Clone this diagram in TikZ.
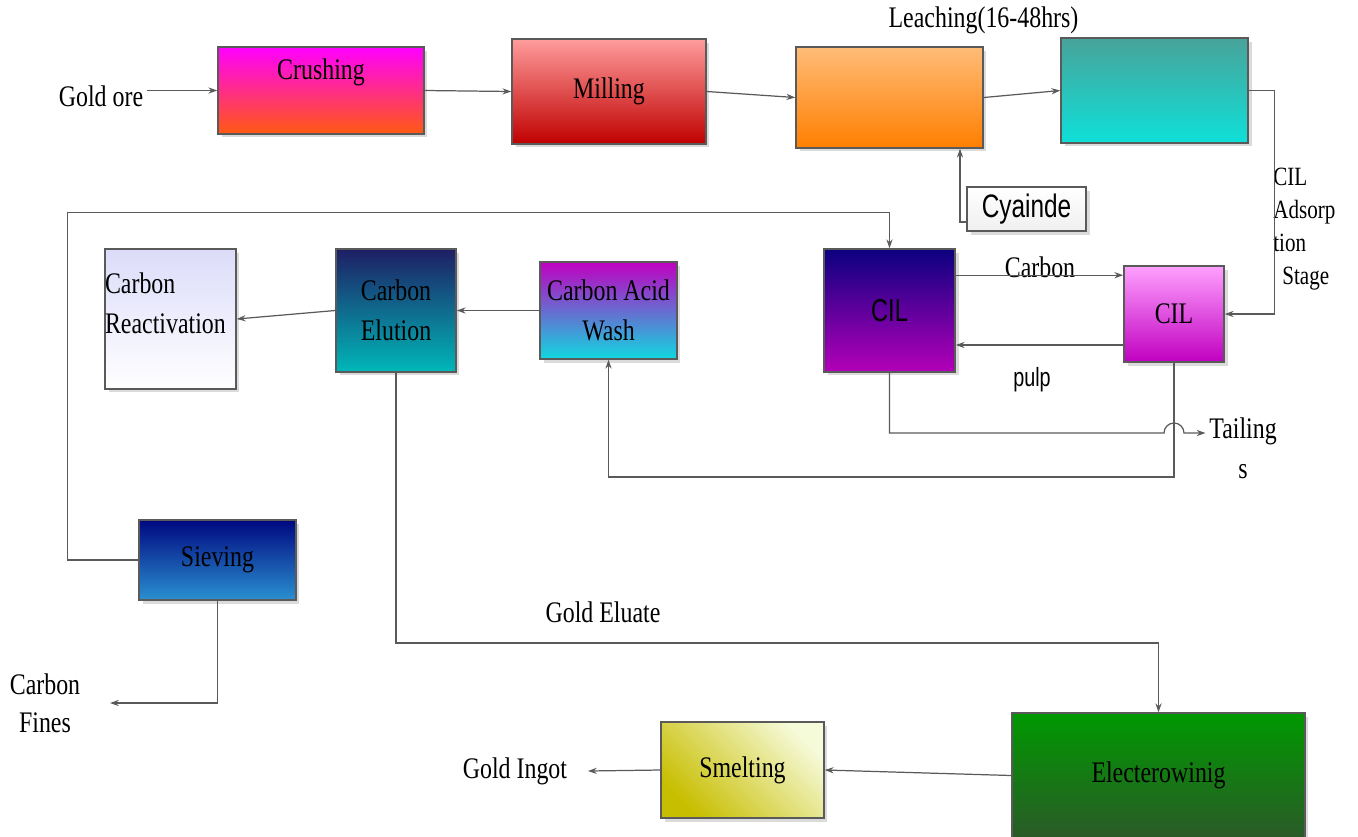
\documentclass[tikz,border=0pt]{standalone}
\usepackage{fontspec}
\setmainfont[FakeStretch=0.8]{Liberation Serif}
\newfontfamily\narsans[FakeStretch=0.75]{Liberation Sans}
\usetikzlibrary{shadows,arrows.meta}

\definecolor{edgegrey}{HTML}{5A5A5A}
\definecolor{crushtop}{HTML}{FF00FF}
\definecolor{crushbot}{HTML}{FF5A10}
\definecolor{milltop}{HTML}{FF9C9C}
\definecolor{millbot}{HTML}{C00000}
\definecolor{leachtop}{HTML}{FFBC78}
\definecolor{leachbot}{HTML}{FF7F00}
\definecolor{tanktop}{HTML}{48A39A}
\definecolor{tankbot}{HTML}{0EE0D8}
\definecolor{cilatop}{HTML}{0B0080}
\definecolor{cilabot}{HTML}{B400B8}
\definecolor{cilbtop}{HTML}{FFA0FF}
\definecolor{cilbbot}{HTML}{C000C0}
\definecolor{acidtop}{HTML}{C000C0}
\definecolor{acidbot}{HTML}{10D8E0}
\definecolor{elutetop}{HTML}{1E1E64}
\definecolor{elutebot}{HTML}{00B8B8}
\definecolor{reacttop}{HTML}{DCDCFA}
\definecolor{sievetop}{HTML}{000880}
\definecolor{sievebot}{HTML}{2A90D0}
\definecolor{electtop}{HTML}{009900}
\definecolor{electbot}{HTML}{2A5A28}
\definecolor{smeltdark}{HTML}{C8BE00}
\definecolor{smeltlight}{HTML}{F5FAD8}

\begin{document}
\begin{tikzpicture}[x=0.02cm, y=-0.02cm,
    stage/.style={draw=edgegrey, line width=0.9pt, inner sep=0pt, align=center,
      drop shadow={shadow xshift=0.07cm, shadow yshift=-0.07cm, fill=black!14, opacity=1},
      font=\fontsize{17}{22.5}\selectfont},
    flow/.style={draw=edgegrey, line width=0.7pt, -{Stealth[length=5pt, width=3.5pt]}},
    txt/.style={inner sep=2pt, align=center, font=\fontsize{17}{22.5}\selectfont}]
  % Fix the page size
  \useasboundingbox (0,0) rectangle (1358,836);

  % Draw the top row
  \node[stage, minimum width=4.12cm, minimum height=1.74cm, top color=crushtop, bottom color=crushbot, text depth=24.7pt] (crush) at (321,90.5) {Crushing};
  \node[stage, minimum width=3.88cm, minimum height=2.1cm, top color=milltop, bottom color=millbot] (mill) at (609,91.5) {Milling};
  \node[stage, minimum width=3.74cm, minimum height=2.02cm, top color=leachtop, bottom color=leachbot] (leach) at (889.5,97.5) {};
  \node[stage, minimum width=3.74cm, minimum height=2.1cm, top color=tanktop, bottom color=tankbot] (tank) at (1154.5,90.5) {};
  \node[stage, minimum width=2.38cm, minimum height=0.88cm, top color=white, bottom color=black!6, font=\narsans\fontsize{18.5}{21}\selectfont] (cyan) at (1026.5,209) {Cyainde};

  % Draw the CIL row
  \node[stage, minimum width=2.62cm, minimum height=2.46cm, top color=cilatop, bottom color=cilabot, font=\narsans\fontsize{18}{21}\selectfont] (cila) at (889.5,310.5) {CIL};
  \node[stage, minimum width=2cm, minimum height=1.92cm, top color=cilbtop, bottom color=cilbbot] (cilb) at (1174,314) {CIL};
  \node[stage, minimum width=2.74cm, minimum height=1.94cm, top color=acidtop, bottom color=acidbot] (acid) at (608.5,310.5) {Carbon Acid\\Wash};
  \node[stage, minimum width=2.4cm, minimum height=2.46cm, top color=elutetop, bottom color=elutebot] (elute) at (396,310.5) {Carbon\\Elution};
  \node[stage, minimum width=2.62cm, minimum height=2.8cm, top color=reacttop, bottom color=white, text depth=22pt] (react) at (170.5,319)
    {\makebox[2.62cm][l]{\begin{tabular}[b]{@{}l@{}}Carbon\\Reactivation\end{tabular}}};

  % Draw the bottom row
  \node[stage, minimum width=3.14cm, minimum height=1.6cm, top color=sievetop, bottom color=sievebot] (sieve) at (217.5,560) {Sieving};
  \node[stage, minimum width=5.86cm, minimum height=2.5cm, top color=electtop, bottom color=electbot] (elect) at (1158.5,775.5) {Electerowinig};
  \node[stage, minimum width=3.26cm, minimum height=1.92cm, bottom color=smeltdark, top color=smeltlight, shading angle=-45] (smelt) at (742.5,770) {Smelting};

  % Free texts
  \node[txt] (ore) at (101,96) {Gold ore};
  \node[txt] (leachlbl) at (983.5,20) {Leaching(16-48hrs)};
  \node[txt, anchor=north west, inner sep=0pt, align=left, font=\fontsize{15}{18.7}\selectfont] (ads) at (1273,168) {CIL\\Adsorp\\tion\\\hspace*{0.18cm}Stage};
  \node[txt] (carb) at (1040,267) {Carbon};
  \node[txt, font=\narsans\fontsize{15}{18}\selectfont] (pulp) at (1032,380) {pulp};
  \node[txt, font=\fontsize{17}{22.7}\selectfont] (tail) at (1243,448) {Tailing\\s};
  \node[txt] (eluate) at (603,612) {Gold Eluate};
  \node[txt, font=\fontsize{17}{21.5}\selectfont] (fines) at (45,703) {Carbon\\Fines};
  \node[txt] (ingot) at (515,771) {Gold Ingot};

  % Helper points on the CIL lines
  \coordinate (cin) at ([yshift=-0.2cm]cilb.north west);
  \coordinate (pout) at ([yshift=-0.62cm]cilb.west);
  \coordinate (hop) at (1174,433);

  % Connect the top row
  \draw[flow] (ore.east |- crush.west) -- (crush.west);
  \draw[flow] (crush.east) -- (mill.west);
  \draw[flow] (mill.east) -- (leach.west);
  \draw[flow] (leach.east) -- (tank.west);
  \draw[flow] ([yshift=-0.26cm]cyan.west) -| ([xshift=1.41cm]leach.south);
  \draw[flow] (tank.east) -| ([xshift=1cm]cilb.east) -- (cilb.east);

  % Connect the CIL tanks
  \draw[flow] (cila.east |- cin) -- (cin);
  \draw[flow] (pout) -- (cila.east |- pout);
  \draw[flow] (cila.south) |- ([xshift=-0.2cm]hop) arc[start angle=180, end angle=0, radius=0.2cm] -- (tail.west |- hop);
  \draw[flow] (cilb.south) |- (acid.south |- 0,477) -- (acid.south);

  % Connect the carbon circuit
  \draw[flow] (acid.west) -- (elute.east);
  \draw[flow] (elute.west) -- (react.east);
  \draw[flow] (sieve.west) -- ++(-71,0) |- ([yshift=0.72cm]cila.north) -- (cila.north);
  \draw[flow] (sieve.south) |- ([xshift=0.52cm]fines.east);
  \draw[flow] (elute.south) |- (elect.north |- 0,643) -- (elect.north);
  \draw[flow] (elect.west) -- (smelt.east);
  \draw[flow] (smelt.west) -- ([xshift=0.34cm]ingot.east);
\end{tikzpicture}
\end{document}
